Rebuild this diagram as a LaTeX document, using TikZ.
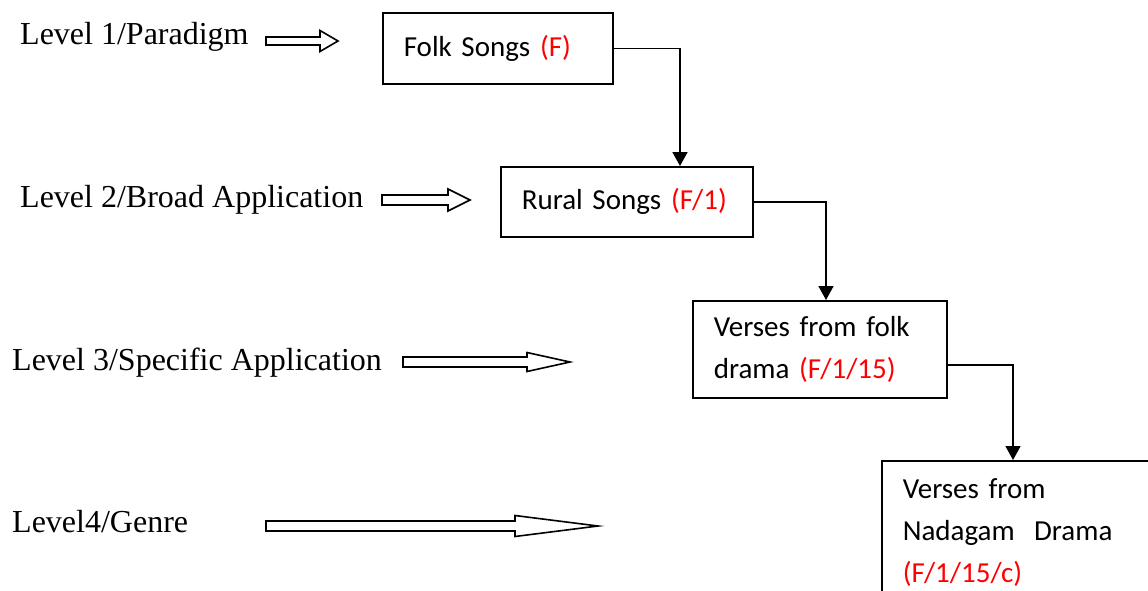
\documentclass[tikz,border=0pt]{standalone}
\usepackage{fontspec}
\setmainfont{Liberation Serif}
\newfontfamily\boxfont{Carlito}
\usetikzlibrary{arrows.meta}
\begin{document}
\begin{tikzpicture}[x=1pt, y=-1pt,
        level/.style={anchor=base west, inner sep=0pt, font=\fontsize{32}{38}\selectfont},
        box/.style={draw, line width=1.6pt, anchor=north west, inner xsep=21pt, inner ysep=0pt, align=left, font=\boxfont\fontsize{29}{42}\selectfont},
        link/.style={line width=1.6pt, -{Triangle[length=14pt,width=15pt]}}]
            \clip (0,0) rectangle (1148,590);
            % levels on the left
            \node[level] (l1) at (20,44) {Level 1/Paradigm};
            \node[level] (l2) at (20,207) {Level 2/Broad Application};
            \node[level] (l3) at (12,370) {Level 3/Specific Application};
            \node[level] (l4) at (12,532) {Level4/Genre};
            % hollow arrows
            \foreach \xa/\xb/\xt/\yc/\hs/\hh in {266/320/338/41/4/10.5, 382/448/470/200/5/11, 403/527/570/362/5/9.5, 266/515/598/526/5/10.5}
                \draw[line width=1.6pt] (\xa,\yc-\hs) -- (\xb,\yc-\hs) -- (\xb,\yc-\hh) -- (\xt,\yc) -- (\xb,\yc+\hh) -- (\xb,\yc+\hs) -- (\xa,\yc+\hs) -- cycle;
            % boxes
            \node[box, text width=188pt, minimum height=71pt] (folk) at (382,12) {Folk Songs \textcolor{red}{(F)}};
            \node[box, text width=210pt, minimum height=70pt] (rural) at (500,166) {Rural Songs \textcolor{red}{(F/1)}};
            \node[box, text width=212pt, minimum height=97pt] (drama) at (692,300) {Verses from folk\\drama \textcolor{red}{(F/1/15)}};
            \node[box, text width=260pt, inner ysep=18pt] (nadagam) at (881,460) {Verses from\\Nadagam\ \ Drama\\\textcolor{red}{(F/1/15/c)}};
            % links
            \draw[link] (folk.east) -| ([xshift=180pt]rural.north west);
            \draw[link] (rural.east) -| ([xshift=134pt]drama.north west);
            \draw[link] ([yshift=-15.5pt]drama.east) -| ([xshift=132pt]nadagam.north west);
        \end{tikzpicture}
\end{document}
